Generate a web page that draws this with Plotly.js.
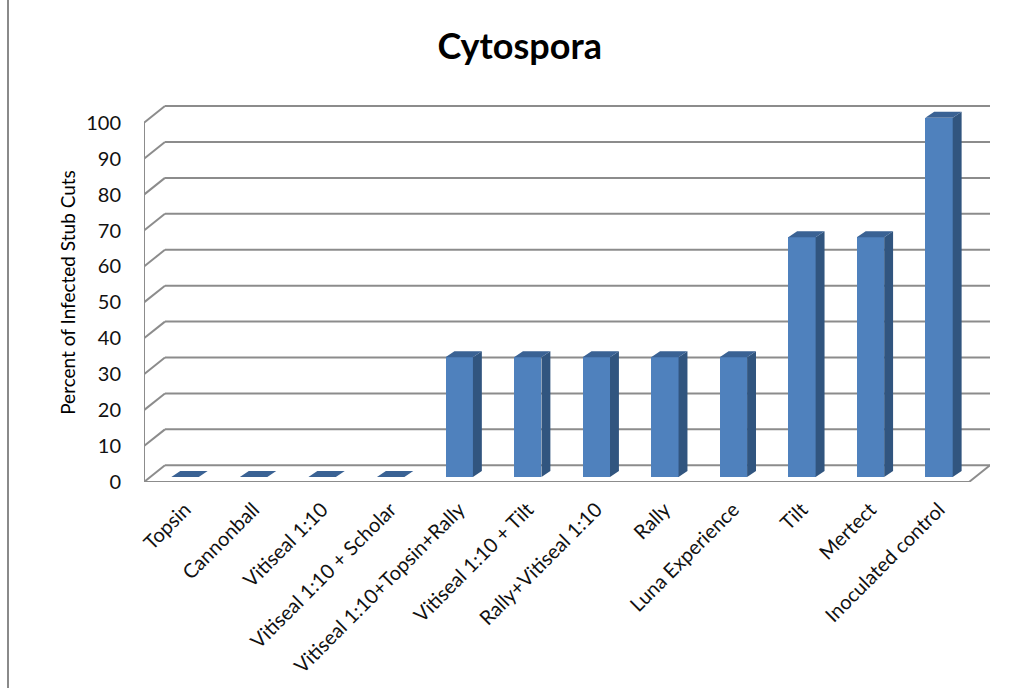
<!DOCTYPE html>
<html>
<head>
<meta charset="utf-8">
<script src="https://cdn.plot.ly/plotly-3.0.1.min.js"></script>
<style>
  html, body { margin: 0; padding: 0; background: #fff; }
  #chart { width: 1023px; height: 688px; }
  #edge { position: absolute; left: 7px; top: 0; width: 2px; height: 688px; background: #8a8a8a; }
</style>
</head>
<body>
<div id="chart"></div>
<div id="edge"></div>
<script>
// ---- data ----
const categories = [
  "Topsin", "Cannonball", "Vitiseal 1:10", "Vitiseal 1:10 + Scholar",
  "Vitiseal 1:10+Topsin+Rally", "Vitiseal 1:10 + Tilt", "Rally+Vitiseal 1:10",
  "Rally", "Luna Experience", "Tilt", "Mertect", "Inoculated control"
];
const percentInfected = [0, 0, 0, 0, 33.3, 33.3, 33.3, 33.3, 33.3, 66.7, 66.7, 100];
const yTicks = [0, 10, 20, 30, 40, 50, 60, 70, 80, 90, 100];

// ---- 3D look geometry (in axis units) ----
const X0 = -0.599, X1 = 11.744;     // x range
const Y1 = 105.5;                   // y range top
const WALL_DX = 0.306, WALL_DY = 4.65; // depth of the box
const FRONT_RIGHT = X1 - WALL_DX;
const BAR_HALF = 0.2, BAR_BASE = 1.4, BAR_DX = 0.13, BAR_DY = 1.67;

const idx = categories.map((_, i) => i);

const lineStyle = { color: "#8c8c8c", width: 2 };
const shapes = [];
function seg(xa, ya, xb, yb) {
  shapes.push({ type: "line", xref: "x", yref: "y", x0: xa, y0: ya, x1: xb, y1: yb,
                line: lineStyle, layer: "below" });
}
// back-wall gridlines and side-wall diagonals
yTicks.forEach(v => {
  seg(X0, v, X0 + WALL_DX, v + WALL_DY);
  seg(X0 + WALL_DX, v + WALL_DY, X1, v + WALL_DY);
});
// left front edge and floor front edge
seg(X0, 0, X0, yTicks[yTicks.length - 1]);
seg(X0, 0, FRONT_RIGHT, 0);
seg(FRONT_RIGHT, 0, X1, WALL_DY);

// bar side and top faces
const sx = [], sy = [], tx = [], ty = [];
percentInfected.forEach((v, i) => {
  const top = v + BAR_BASE;
  if (v > 0) {
    sx.push(i + BAR_HALF, i + BAR_HALF + BAR_DX, i + BAR_HALF + BAR_DX, i + BAR_HALF, i + BAR_HALF, null);
    sy.push(BAR_BASE, BAR_BASE + BAR_DY, top + BAR_DY, top, BAR_BASE, null);
  }
  tx.push(i - BAR_HALF, i + BAR_HALF, i + BAR_HALF + BAR_DX, i - BAR_HALF + BAR_DX, i - BAR_HALF, null);
  ty.push(top, top, top + BAR_DY, top + BAR_DY, top, null);
});

const traces = [
  { type: "bar", x: idx, y: percentInfected, base: BAR_BASE, width: 2 * BAR_HALF,
    marker: { color: "#4f81bd", line: { width: 0 } }, showlegend: false },
  { type: "scatter", mode: "lines", x: sx, y: sy, fill: "toself", fillcolor: "#31557f",
    line: { width: 0, color: "#31557f" }, hoverinfo: "skip", showlegend: false, cliponaxis: false },
  { type: "scatter", mode: "lines", x: tx, y: ty, fill: "toself", fillcolor: "#3a6294",
    line: { width: 0, color: "#3a6294" }, hoverinfo: "skip", showlegend: false, cliponaxis: false }
];

const font = "Lato, 'Open Sans', sans-serif";
const layout = {
  width: 1023, height: 688,
  paper_bgcolor: "#fff", plot_bgcolor: "rgba(0,0,0,0)",
  margin: { l: 144, r: 33, t: 103, b: 206 },
  shapes: shapes,
  title: { text: "<b>Cytospora</b>", x: 0.508, xanchor: "center", y: 0.932, yanchor: "middle",
           font: { family: font, size: 36, color: "#000" } },
  xaxis: { range: [X0, X1], tickvals: idx, ticktext: categories, tickangle: -45,
           showgrid: false, zeroline: false, showline: false, ticks: "", ticklabelstandoff: 11,
           tickfont: { family: font, size: 20, color: "#111" } },
  yaxis: { range: [0, Y1], tickvals: yTicks, showgrid: false, zeroline: false, showline: false,
           ticks: "", ticklabelstandoff: 22,
           tickfont: { family: font, size: 20, color: "#111" },
           title: { text: "Percent of Infected Stub Cuts", standoff: 5,
                    font: { family: font, size: 19, color: "#000" } } },
  bargap: 0, showlegend: false
};

Plotly.newPlot("chart", traces, layout, { displayModeBar: false, staticPlot: true });
</script>
</body>
</html>
